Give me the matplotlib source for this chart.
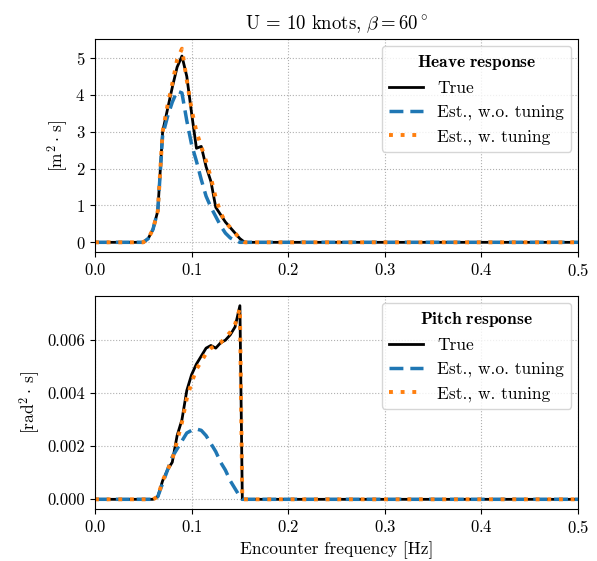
import matplotlib
matplotlib.use("Agg")
import matplotlib.pyplot as plt

plt.rcParams['font.family'] = 'serif'
plt.rcParams['font.serif'] = ['cmr10']
plt.rcParams['mathtext.fontset'] = 'cm'
plt.rcParams['axes.formatter.use_mathtext'] = True
plt.rcParams['font.size'] = 12

# Heave response data
heave_freq = [0.0, 0.045, 0.05, 0.055, 0.06, 0.065, 0.07, 0.075, 0.08, 0.085, 0.09,
              0.095, 0.10, 0.105, 0.11, 0.115, 0.12, 0.125, 0.13, 0.135, 0.14,
              0.145, 0.15, 0.155, 0.16, 0.5]
heave_true = [0, 0, 0, 0.1, 0.35, 0.85, 3.0, 3.6, 4.2, 4.75, 5.05,
              4.5, 3.5, 2.55, 2.6, 2.05, 1.65, 0.95, 0.75, 0.55, 0.4,
              0.25, 0.1, 0.0, 0, 0]
heave_wo = [0, 0, 0, 0.1, 0.35, 0.85, 2.9, 3.4, 3.8, 4.1, 4.05,
            3.3, 2.65, 2.2, 1.7, 1.25, 0.95, 0.7, 0.45, 0.25, 0.12,
            0.05, 0.0, 0.0, 0, 0]
heave_w = [0, 0, 0, 0.1, 0.35, 0.85, 3.0, 3.7, 4.3, 4.95, 5.25,
           4.4, 3.6, 3.0, 2.6, 2.2, 1.75, 1.2, 0.8, 0.55, 0.4,
           0.25, 0.1, 0.0, 0, 0]

# Pitch response data
pitch_freq = [0.0, 0.06, 0.065, 0.07, 0.075, 0.08, 0.085, 0.09, 0.095, 0.10,
              0.105, 0.11, 0.115, 0.12, 0.125, 0.13, 0.135, 0.14, 0.145,
              0.15, 0.1525, 0.16, 0.5]
pitch_true = [0, 0, 0.0001, 0.0007, 0.0011, 0.0014, 0.0024, 0.0030, 0.0041, 0.0047,
              0.0051, 0.0054, 0.0057, 0.0058, 0.0057, 0.0059, 0.0060, 0.0062, 0.0065,
              0.0073, 0.0, 0, 0]
pitch_wo = [0, 0, 0.0001, 0.0006, 0.0011, 0.0016, 0.0019, 0.0022, 0.0025, 0.0026,
            0.00265, 0.0026, 0.0024, 0.0021, 0.0018, 0.0014, 0.0011, 0.0007, 0.0004,
            0.0001, 0.0, 0, 0]
pitch_w = [0, 0, 0.0001, 0.0007, 0.0011, 0.0015, 0.0022, 0.0029, 0.0038, 0.0044,
           0.0049, 0.0052, 0.0055, 0.0057, 0.0058, 0.0059, 0.0061, 0.0063, 0.0066,
           0.0072, 0.0, 0, 0]

xticks = [0.0, 0.1, 0.2, 0.3, 0.4, 0.5]
labels = ['True', 'Est., w.o. tuning', 'Est., w. tuning']

fig = plt.figure(figsize=(5.97, 5.61), dpi=100)
ax1 = fig.add_axes([95/597, 1-252/561, (578-95)/597, (252-39)/561])
ax2 = fig.add_axes([95/597, 1-509/561, (578-95)/597, (509-296)/561])

def draw(ax, f, t, wo, w, title, ylabel):
    ax.plot(f, t, color='black', lw=2.0, label=labels[0])
    ax.plot(f, wo, color='tab:blue', lw=2.5, ls=(0, (4, 2)), label=labels[1])
    ax.plot(f, w, color='tab:orange', lw=2.8, ls=(0, (1, 2.0)), label=labels[2])
    ax.set_xlim(0, 0.5)
    ax.set_xticks(xticks)
    ax.grid(True, ls=':', color='#b0b0b0', lw=0.8)
    ax.set_ylabel(ylabel, fontsize=12.5)
    leg = ax.legend(loc='upper right', title=title, fancybox=True, framealpha=0.8,
                    fontsize=12.5, title_fontsize=12.5, borderaxespad=0.4)
    return leg

draw(ax1, heave_freq, heave_true, heave_wo, heave_w,
     r'$\mathbf{Heave\ response}$', r'$[\mathrm{m}^2\cdot\,\mathrm{s}]$')
draw(ax2, pitch_freq, pitch_true, pitch_wo, pitch_w,
     r'$\mathbf{Pitch\ response}$', r'$[\mathrm{rad}^2\cdot\,\mathrm{s}]$')
ax1.set_yticks([0, 1, 2, 3, 4, 5])
ax2.set_yticks([0, 0.002, 0.004, 0.006])
ax2.set_yticklabels(['0.000', '0.002', '0.004', '0.006'])
ax1.set_title(r'U = 10 knots, $\beta = 60^\circ$', fontsize=13.5, pad=7)
ax2.set_xlabel('Encounter frequency [Hz]', fontsize=12.5)

fig.savefig('out.png', dpi=100)
